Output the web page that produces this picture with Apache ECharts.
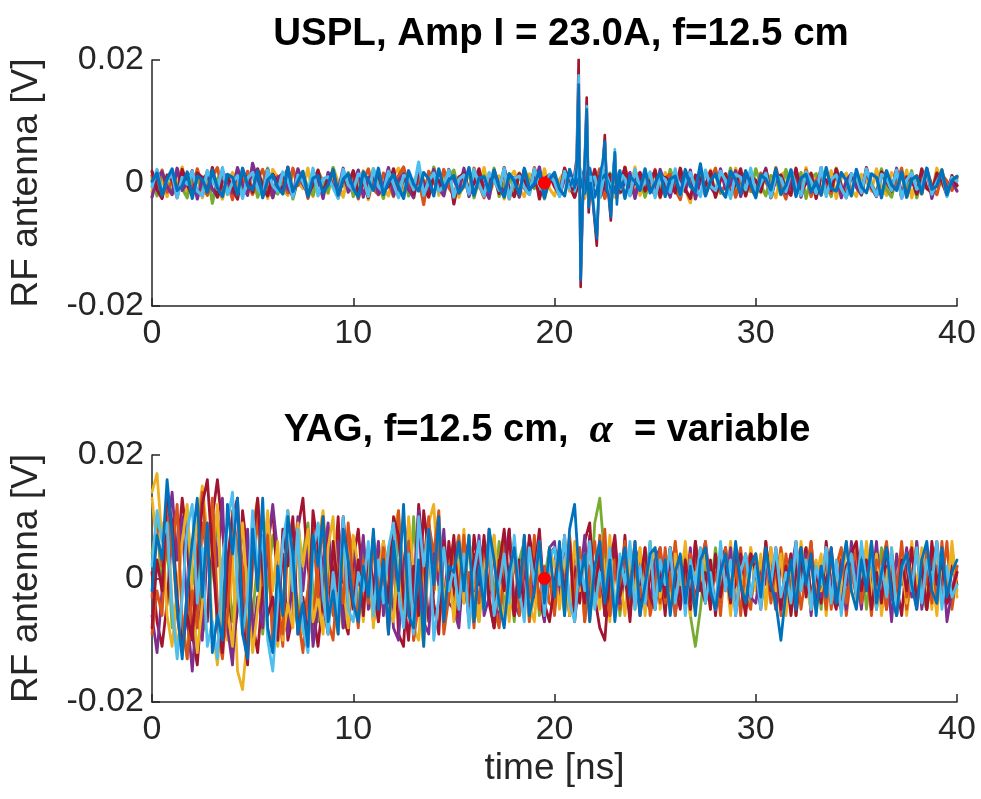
<!DOCTYPE html>
<html><head><meta charset="utf-8">
<script src="https://cdn.jsdelivr.net/npm/echarts@6/dist/echarts.min.js"></script>
<style>html,body{margin:0;padding:0;background:#fff}#c{width:981px;height:799px}</style>
</head><body><div id="c"></div><script>
// ---- data (RF antenna signal, values in mV; sample step 0.25 ns from t = 0) ----
const sampleStepNs = 0.25;
const timeTicksNs = [0, 10, 20, 30, 40];
const yTickLabels = {'-20': '-0.02', '0': '0', '20': '0.02'};
const markerTimeNs = 19.5;
const markerValue = 0;

// USPL shots (top panel)
const uspOrange = [1.2,-0.8,2.1,-1.5,0.3,-2.4,1.7,0.4,-1.1,2.3,-0.6,-2.0,1.0,2.5,-1.3,0.2,-2.7,1.4,-0.3,1.9,
-1.8,0.7,2.2,-0.9,-2.3,1.1,0.0,-1.6,2.4,-0.4,1.3,-2.5,0.6,1.8,-1.2,-0.2,2.0,-2.1,0.9,-0.7,
1.5,-2.6,0.4,2.3,-1.0,-1.9,1.6,0.2,-2.2,1.2,2.6,-0.5,-1.4,0.8,-3.5,1.9,0.1,-1.1,2.2,-0.8,
-2.0,1.0,0.5,-1.7,2.4,-0.3,-2.4,1.4,0.7,-1.2,2.0,-2.6,0.3,1.6,-0.9,-1.8,2.5,-0.1,-2.2,1.3,
0.6,-1.5,2.1,-0.6,-2.3,0.9,1.8,-1.0,-0.2,2.3,-2.5,0.4,1.1,-1.6,2.6,-0.7,-2.0,1.5,0.0,-1.3,
2.2,-2.4,0.8,1.4,-1.1,-2.7,1.9,0.3,-0.8,2.0,-1.9,0.5,2.4,-1.4,-0.4,1.2,-2.3,0.7,1.7,-1.0,
-2.1,1.6,0.2,-1.5,2.5,-0.5,-2.6,1.0,0.6,-1.2,2.1,-2.2,0.4,1.8,-0.9,-1.7,2.3,-0.3,-2.4,1.1,
0.9,-1.4,2.0,-0.7,-2.1,1.3,1.7,-1.1,-0.1,2.4,-2.3,0.6,1.2,-1.8,2.2,-0.4,-1.9,1.4,0.3,-1.2,0.8];
const uspYellow = [-1.4,2.0,0.6,-2.2,1.1,-0.5,2.6,-1.8,-0.2,1.5,-2.4,0.9,2.1,-1.0,-2.6,0.4,1.7,-1.3,2.3,-0.6,
-1.9,1.2,0.2,-2.5,2.2,0.8,-1.2,-2.0,1.6,0.3,-0.9,2.4,-2.2,1.0,-0.4,-1.7,2.5,0.1,-2.3,1.4,
0.7,-1.5,2.0,-2.7,0.5,1.9,-0.8,-2.1,1.3,2.4,-1.6,0.0,-2.4,1.8,0.6,-1.1,2.2,-2.0,0.9,-0.3,
1.6,-2.3,0.4,2.1,-1.4,-0.6,2.5,-1.9,0.2,1.2,-2.6,0.8,1.9,-1.0,-2.2,1.5,0.3,-1.6,2.3,-0.9,
-2.1,0.6,1.8,-1.3,-0.1,2.4,-2.5,1.1,0.5,-1.8,2.0,-0.7,-2.3,1.4,0.9,-1.2,2.6,-2.0,0.2,1.3,
-0.8,-2.2,1.7,0.4,-1.5,2.3,-1.1,-3.2,1.0,0.6,-0.4,2.1,-2.3,1.5,-0.2,-1.7,2.4,0.0,-2.1,1.2,
0.5,-1.6,2.2,-0.9,-2.4,1.3,1.9,-1.2,0.1,-2.0,2.5,-0.6,1.0,-1.9,-0.3,2.0,-2.5,0.8,1.6,-1.1,
-2.2,1.4,0.3,-1.3,2.3,-0.7,-2.0,1.7,0.6,-1.5,2.1,-2.4,0.9,1.2,-0.8,-1.8,2.4,-0.2,-1.4,1.0,-0.5];
const uspGreen = [0.8,-2.1,1.5,0.2,-1.7,2.3,-0.9,-2.4,1.2,0.5,-1.0,2.0,-3.3,0.7,1.8,-1.4,-0.3,2.2,-1.9,0.4,
1.6,-2.3,0.1,2.4,-1.1,-1.8,0.9,2.1,-2.6,0.6,1.3,-0.7,-2.0,1.9,0.3,-1.5,2.5,-1.2,-0.4,1.7,
-2.2,0.5,1.1,-1.6,2.3,-0.2,-2.5,1.4,0.8,-1.3,2.0,-2.1,0.3,1.6,-0.8,-1.9,2.6,-0.5,-1.2,0.9,
2.1,-1.7,-0.6,1.8,-2.4,0.7,1.2,-1.0,2.4,-2.2,0.0,1.5,-1.4,-2.0,2.2,0.4,-0.9,1.7,-2.6,1.0,
0.3,-1.5,2.3,-0.4,-2.1,1.3,0.9,-1.8,2.0,-0.6,-2.4,1.6,0.2,-1.1,2.5,-1.9,0.6,1.1,-2.3,0.5,
1.8,-0.8,-1.6,2.2,-0.1,-2.5,1.5,0.7,-1.2,2.1,-2.0,0.4,1.4,-1.7,-0.5,2.4,-2.2,0.8,1.0,-1.4,
2.3,-0.3,-2.1,1.2,0.6,-1.9,2.2,-1.0,-0.7,1.7,-2.5,0.9,1.5,-1.3,0.1,-2.2,2.4,-0.6,-1.5,1.1,
0.4,-2.0,1.9,-0.2,-1.6,2.3,-1.1,-2.3,1.3,0.8,-0.9,2.0,-2.4,0.5,1.7,-1.2,-0.4,2.2,-1.8,0.6,1.0];
const uspPurple = [-2.3,0.9,1.8,-0.6,-1.9,2.4,-1.2,0.1,2.0,-2.6,0.7,1.4,-1.0,-2.2,1.9,0.5,-1.6,2.5,-0.4,-2.0,
3.2,0.3,-1.4,2.2,-2.4,0.8,1.6,-0.9,-2.1,2.3,-0.2,-1.7,1.3,0.6,-2.5,1.7,-0.5,-1.2,2.4,-1.5,
-0.1,2.1,-2.3,0.9,1.2,-1.8,-0.6,2.5,-2.0,0.4,1.5,-1.1,-2.4,1.9,0.2,-1.4,2.2,-0.8,-2.1,1.6,
0.5,-1.3,2.4,-2.2,0.1,1.8,-0.7,-2.5,2.0,-0.3,-1.5,1.2,0.8,-2.3,2.1,-1.0,-0.4,2.6,-1.9,0.3,
1.4,-2.1,0.7,1.9,-1.6,-0.5,2.3,-2.4,0.6,1.1,-0.9,-2.0,2.4,-1.3,0.0,1.7,-2.5,0.9,1.3,-1.1,
-1.8,2.2,-0.2,-2.3,1.5,0.8,-1.4,2.1,-2.6,0.4,1.6,-0.6,-1.9,2.3,-1.0,-0.3,2.0,-2.2,0.7,1.2,
-1.5,0.2,2.4,-2.0,0.6,1.3,-1.7,-0.4,2.2,-2.3,1.0,0.5,-1.2,2.5,-1.8,-0.1,1.8,-2.4,0.4,1.5,
-0.7,-1.9,2.1,-0.8,-2.2,1.6,0.9,-1.3,2.4,-2.1,0.3,1.1,-1.6,-0.2,2.3,-2.5,0.8,1.4,-1.0,0.2,-1.3];
const uspDarkRed = [1.9,-1.1,-2.5,1.3,0.4,-1.8,2.2,-0.3,-2.0,1.6,0.9,-1.4,2.5,-2.3,0.2,1.1,-0.8,-2.6,1.8,0.6,
-1.5,2.3,-0.6,-2.1,1.4,0.0,-1.2,2.6,-2.2,0.7,1.5,-1.9,-0.3,2.1,-1.6,0.5,1.9,-2.4,0.8,-0.2,
2.0,-1.7,0.3,-2.4,1.7,1.0,-1.3,-0.5,2.3,-2.1,0.6,1.2,-1.8,2.4,-0.7,-2.3,1.1,0.4,-1.0,2.2,
-3.4,0.9,1.6,-1.2,-0.1,2.3,-2.0,0.5,1.0,-1.7,2.5,-0.9,-2.2,1.5,0.3,-1.4,2.1,-2.6,0.7,1.3,
-0.6,-1.9,2.4,-0.2,-2.3,1.6,0.8,-1.1,2.2,-2.4,0.1,1.4,-1.5,-0.7,2.5,-2.0,0.6,1.7,-1.3,0.2,
2.0,-2.2,0.9,0.3,-1.6,2.4,-1.0,-2.5,1.3,0.7,-0.4,1.9,-2.3,0.5,1.5,-1.8,-0.2,2.3,-2.1,1.0,
0.4,-1.4,2.1,-2.4,0.8,1.2,-0.9,-2.0,2.4,-1.5,0.0,1.6,-2.5,1.1,0.5,-1.2,2.2,-0.6,-2.2,1.4,
0.7,-1.7,2.5,-0.4,-2.1,1.8,0.2,-1.3,2.0,-2.4,1.0,0.6,-1.8,2.3,-0.9,-1.5,1.6,0.3,-2.0,1.2,-0.4];
const uspCyan = [-0.6,2.2,-1.7,0.5,1.4,-2.4,0.9,-0.2,1.9,-1.3,-2.1,2.0,0.4,-1.0,2.5,-1.9,0.1,1.2,-2.5,0.8,
1.7,-0.9,-2.0,2.1,-0.4,-1.4,1.8,0.6,-2.3,1.3,0.2,-1.6,2.4,-2.1,0.7,1.0,-0.8,-2.5,2.2,-0.3,
-1.2,1.5,0.8,-2.2,2.3,-0.6,-1.5,1.9,-0.1,-2.4,1.2,0.9,-1.1,3.4,-2.0,0.3,1.6,-1.4,-0.5,2.1,
-2.3,0.6,1.3,-1.8,2.2,-0.2,-2.1,1.7,0.4,-1.2,2.4,-2.5,0.8,1.1,-0.7,-1.9,2.3,-0.5,-1.6,1.4,
0.2,-2.2,1.9,-0.9,-1.3,2.5,-1.6,0.5,1.0,-2.4,2.0,-0.3,-1.7,1.5,0.7,-2.1,2.2,-1.0,0.1,1.8,
-2.4,1.1,0.6,-1.5,2.3,-2.0,0.3,1.7,-0.8,-2.2,2.1,-0.5,-1.2,1.9,0.4,-2.5,1.4,0.9,-1.1,2.4,
-1.9,0.0,1.6,-2.3,1.2,0.7,-1.4,2.2,-0.6,-2.0,1.8,0.3,-1.7,2.5,-2.2,0.6,1.3,-0.9,-2.4,1.5,
1.0,-1.6,2.3,-0.3,-2.1,1.4,0.8,-1.2,2.1,-2.5,0.5,1.6,-1.0,-0.4,2.4,-1.8,0.2,1.7,-2.2,0.9,0.3];
const uspBlue = [0.3,1.6,-2.0,0.7,2.3,-1.2,-0.5,1.8,-2.5,1.1,0.6,-1.5,2.1,-0.8,-2.2,1.4,0.9,-1.9,2.4,-0.4,
-1.1,2.0,-2.4,0.5,1.3,-0.7,-1.8,2.5,-1.4,0.2,1.9,-2.2,0.8,1.2,-1.6,-0.3,2.2,-2.0,0.6,1.5,
-0.9,-2.3,1.8,0.4,-1.2,2.4,-1.9,0.1,1.4,-0.6,-2.5,2.0,-0.2,-1.3,1.7,0.7,-2.1,2.3,-1.0,0.5,
1.2,-1.6,-0.4,2.5,-2.0,0.8,1.0,-1.4,2.1,-0.7,-2.3,1.5,0.3,-1.8,2.4,-1.1,-0.1,1.9,-2.4,0.6,
1.7,-1.0,-2.1,2.2,-0.5,0.9,-1.7,2.4,-2.3,0.4,1.3,-0.8,-1.5,2.0,-2.5,1.1,0.2,-1.2,2.3,-1.6,
0.0,1.8,-2.2,0.7,1.1,-1.9,2.2,-0.6,-1.4,3.1,-2.1,0.3,1.5,-1.0,-2.3,1.9,0.5,-1.7,2.0,-0.2,
-2.4,1.3,0.6,-1.1,2.3,-1.8,-0.4,2.1,-2.2,0.8,1.4,-1.5,0.2,-2.0,2.5,-0.9,-1.3,1.7,0.4,-2.1,
2.2,-0.6,-1.6,1.5,0.9,-2.4,2.0,-0.3,-1.2,1.8,-2.3,0.6,1.1,-1.7,2.4,-1.0,-0.5,2.1,-1.9,0.4,1.1];

// USPL discharge burst, sampled every 0.1 ns
const burstTimeNs = [20.8,20.9,21.0,21.1,21.2,21.3,21.4,21.5,21.6,21.7,21.8,21.9,22.0,22.1,22.2,22.3,22.4,22.5,22.6,22.7,22.8,22.9,23.0,23.1,23.2,23.3,23.4];
const burstDarkRed = [0.5,-1.2,1.5,4.0,20.3,-16.9,-4.0,3.5,13.9,-4.8,0.5,-3.0,-6.5,-10.2,-1.5,1.5,3.0,7.8,-0.5,-2.5,-6.1,0.8,4.8,-2.5,1.0,-1.5,0.6];
const burstCyan = [0.8,-0.5,1.0,3.0,17.5,-15.0,-3.0,2.5,12.5,-3.5,1.0,-2.0,-5.5,-8.5,-2.0,1.0,2.5,6.5,0.2,-1.8,-5.0,1.2,5.5,-2.0,0.5,-1.0,1.2];
const burstBlue = [-0.3,0.6,-0.8,2.5,16.0,-15.8,-2.5,3.0,12.0,-4.0,0.0,-2.5,-6.0,-9.0,-1.0,2.0,3.5,6.8,-1.0,-2.0,-5.5,0.5,5.0,-3.5,1.2,-0.8,0.2];

// YAG shots (bottom panel)
const yagGreen = [4,9,-2,6,-8,-3,7,11,-1,5,-9,-6,2,10,-4,3,-7,1,9,-2,
-6,3,-9,-1,7,2,-5,8,-3,-8,4,9,-2,-7,1,6,-4,2,-8,5,
3,-5,6,-2,-6,4,-1,5,-7,8,2,-6,10,-3,-9,5,-2,7,-5,1,
-6,4,-2,7,-4,-7,2,5,-3,6,-5,1,-7,3,6,-2,4,-6,0,5,
-4,2,-6,5,1,-3,6,-5,9,13,3,-4,5,-6,1,4,-5,2,-3,6,
-2,4,-5,1,3,-4,2,-6,-11,-5,3,-2,5,-3,1,-5,4,-1,3,-4,
2,-4,5,-1,-5,3,-2,4,-6,1,5,-3,2,-5,4,0,-4,3,-2,5,
-3,4,-5,2,-1,5,-4,3,-6,1,4,-2,6,-3,-5,2,-1,5,-4,3,1];
const yagYellow = [14,17,6,12,-4,-11,-6,-13,3,9,15,7,-8,-14,-5,-10,4,-15,-18,-9,
8,13,3,10,-6,-11,-2,-7,9,4,-9,-3,-10,6,11,1,-5,-9,3,7,
-4,2,-7,5,-2,6,-5,-1,8,11,-3,6,-8,-10,2,9,12,-2,-6,3,
6,-3,8,-5,-1,-7,4,2,7,-4,-6,1,6,-2,5,-7,-3,4,-5,2,
-3,5,-1,7,-6,2,-4,6,1,-5,3,-7,4,-2,6,-4,-1,5,-6,2,
4,-5,1,-3,6,-2,3,-6,2,5,-4,1,-5,3,-1,6,-4,2,-3,5,
-2,4,-5,2,-3,5,1,-4,6,-2,3,-5,0,4,-6,3,-1,5,-3,2,
4,-3,6,-1,-5,2,-4,5,-2,3,-6,1,5,-3,2,-5,4,0,-4,6,-2];
const yagOrange = [-3,8,2,13,7,-6,-12,-2,-9,5,14,3,9,-8,-13,-3,11,5,-4,-11,
2,10,-3,7,-9,-4,-11,6,1,9,-7,-2,-10,5,10,-1,-6,3,-8,8,
4,-6,1,-3,6,-7,2,-9,3,10,-4,8,-10,1,-6,9,4,11,-5,-2,
3,7,-4,1,-8,5,-2,8,-5,-1,6,-6,3,-3,7,-7,2,5,-4,0,
-6,3,-2,7,-4,5,-7,1,6,-3,8,-6,2,-5,4,-1,6,-4,3,-5,
2,-4,5,-2,6,-3,1,-5,3,-1,5,-4,2,-6,4,-2,1,5,-3,-5,
4,-2,6,-3,-1,5,-5,2,-4,3,-2,6,-4,1,-5,4,-2,3,-6,1,
-3,5,-1,4,-5,2,6,-2,-4,3,-5,1,4,-3,5,-4,2,-1,6,-5,1];
const yagDarkRed = [1,-7,-11,-4,8,3,13,6,-9,-14,-3,-7,10,16,8,-2,-12,-5,11,4,
-7,-12,-2,6,11,-1,4,-10,-6,8,13,2,-5,-11,-3,7,-1,10,-6,-9,
3,8,-2,5,-7,-3,6,-1,9,-9,-11,4,-4,12,3,-7,-2,8,-5,6,
-2,-7,4,-5,7,1,6,-4,-8,2,8,-1,-6,3,-5,7,2,-3,-7,4,
5,-2,7,-6,2,-4,6,9,-3,-8,-10,1,5,-4,7,-5,2,-6,4,1,
-4,2,-6,5,1,-3,4,-5,6,-1,-4,3,-6,2,5,-3,-1,4,-5,3,
1,-5,3,-2,5,-4,0,4,-6,2,5,-3,1,-4,6,-2,-5,3,-1,4,
-3,5,-2,6,-4,1,-5,4,-1,-6,3,5,-2,4,-5,1,6,-3,-4,2,-1];
const yagPurple = [-6,-12,-2,7,14,3,10,-6,-15,-4,-10,5,12,2,13,-8,-14,-1,-6,8,
-10,-3,-8,5,12,4,-6,-9,1,10,-2,7,-11,-5,3,9,-3,6,-8,-1,
5,-1,7,-5,-2,6,-6,3,-8,-10,2,9,-3,11,-7,-9,4,-1,8,-4,
-5,-8,3,6,-2,7,-6,-3,5,-7,2,8,-4,-6,1,6,-3,4,-7,5,
6,-3,2,-6,5,-1,7,-5,-2,4,-6,3,6,-4,1,-6,5,2,-3,-5,
3,5,-2,4,-6,1,-3,5,-4,2,6,-1,-5,3,-2,5,-6,1,4,-3,
-4,2,-1,5,-5,3,-3,1,6,-2,4,-6,2,-3,5,-1,-4,3,-5,6,
1,-5,3,-2,6,-4,2,-7,4,-1,5,-3,6,-5,1,3,-4,5,-7,-2,2];
const yagYellow2 = [13,5,9,-6,-11,-2,6,12,-3,-12,-4,8,3,12,-8,-5,-11,2,9,-3,
-12,-5,3,11,-2,6,-10,-4,-8,9,2,8,-7,-3,-9,5,10,-4,-1,-8,
7,2,-5,4,-8,1,6,-3,-7,3,-6,10,1,-5,-11,4,-2,9,-4,2,
-7,3,-4,6,1,-6,4,-2,7,-5,2,-7,5,-1,6,-4,-7,3,-2,5,
2,-5,3,-6,6,-2,4,-7,1,5,-3,7,-5,0,-6,4,-2,5,-4,3,
5,-3,2,-5,4,-1,6,-4,1,-2,5,-5,3,-4,2,-6,4,1,-3,5,
-1,3,-4,5,-2,4,-6,2,-3,6,-1,-5,3,-2,5,-4,1,-3,6,-2,
-4,2,5,-3,4,-6,1,3,-5,2,-4,6,-2,5,-3,1,-6,4,-1,5,-3];
const yagOrange2 = [-9,-2,-6,10,4,12,-7,-13,-2,-8,9,3,13,-4,-11,-6,8,11,2,-12,
4,12,-1,7,-11,-5,-9,11,3,-6,-12,-2,8,-3,10,-7,-10,2,-4,9,
-1,-8,3,-4,7,-2,5,-8,2,11,-5,6,-10,-4,3,10,-2,6,-9,-3,
5,-2,7,-6,1,-4,6,3,-5,-8,2,-1,6,-6,4,-3,7,-5,2,-4,
-5,4,-1,6,-3,5,-7,2,-4,7,-2,-6,3,-1,6,-5,2,-3,5,-6,
-2,5,-4,1,-6,3,-1,4,-5,2,6,-3,1,-4,5,-2,3,-6,2,4,
3,-1,5,-4,2,-6,4,-2,3,-5,1,6,-3,-1,4,-5,2,5,-4,1,
5,-4,2,-6,3,1,-5,4,-2,6,-3,0,-5,3,-1,5,-4,6,-2,-3,2];
const yagDarkRed2 = [-8,3,-2,14,9,-3,-11,-6,-10,2,12,16,4,-7,-12,3,10,13,-6,-14,
6,13,1,-6,-3,-10,8,2,10,-9,-3,-10,11,5,-4,-9,6,-2,10,1,
-5,3,-6,5,-1,-7,3,-4,10,7,-3,-10,2,-6,11,4,-4,-9,6,-1,
7,-5,2,-7,4,-1,7,-3,-8,3,-2,8,-6,2,-5,6,1,8,-4,-7,
-1,5,-3,6,-7,1,-4,7,-2,4,-6,2,7,-3,1,-7,4,-1,5,-3,
-5,2,-3,5,-1,-5,3,-4,6,-2,1,-5,4,-3,2,-4,5,-1,-6,4,
1,-4,6,-2,3,-5,2,-6,1,5,-3,4,-5,2,-1,5,-3,-5,2,4,
6,-2,3,-5,1,-4,5,-1,-6,3,-2,5,-4,2,-5,6,-1,3,-4,-2,1];
const yagCyan = [2,11,6,9,-5,-13,-3,8,12,-4,5,-11,-7,-13,3,9,14,-2,-9,-3,
11,2,7,-10,-15,-4,6,11,-2,8,-8,-12,4,9,-3,-9,1,-6,10,-5,
-7,1,-2,6,-6,3,-4,5,9,-2,-8,4,-9,10,2,8,-10,-3,5,-2,
2,-5,4,-8,1,6,-3,7,-6,-1,4,-4,7,-2,-7,5,-1,6,-6,3,
5,-1,7,-4,-7,3,-2,6,-5,1,-3,5,-6,4,-1,6,-5,2,-4,6,
-5,3,-1,5,-4,2,-6,3,-1,5,-4,1,-5,6,-2,3,-6,1,4,-3,
2,-5,4,-1,5,-3,1,-4,6,-2,3,-5,2,-1,5,-4,3,-6,1,4,
-3,6,-1,4,-5,2,-3,5,-6,1,4,-2,5,-4,3,-1,6,-5,2,-3,-1];
const yagBlue = [-2,7,3,16,7,-5,-13,-2,6,13,-3,9,-12,-6,-10,12,4,13,-9,-13,
8,-2,13,-8,-12,2,-6,10,4,-9,-4,-11,7,2,10,-7,-2,-9,8,3,
-4,-7,2,-3,8,-5,3,-9,6,-2,12,-6,-8,3,-11,8,-1,10,-7,2,
1,6,-2,7,-7,2,-5,8,3,-4,-8,1,5,-3,7,-6,-2,6,-4,5,
-3,6,-6,8,12,-1,4,-7,2,6,-4,3,-7,1,5,-3,6,-6,-1,4,
5,-2,3,-6,1,4,-4,2,-6,3,5,-2,-5,1,4,-3,6,-1,-4,2,
4,-3,5,-1,-4,-10,-2,3,-5,5,-1,4,-6,2,-3,5,-4,1,6,-2,
-5,3,-2,6,-4,1,5,-3,-6,2,4,-1,-5,3,6,-2,-4,5,-3,1,3];

// ---- styling ----
const C = {blue:'#0072BD', orange:'#D95319', yellow:'#EDB120', purple:'#7E2F8E', green:'#77AC30', cyan:'#4DBEEE', darkred:'#A2142F'};
const axisColor = '#262626';
const font = '"Liberation Sans", Arial, Helvetica, sans-serif';

const topShots = [[uspYellow,C.yellow],[uspGreen,C.green],[uspOrange,C.orange],[uspPurple,C.purple],[uspDarkRed,C.darkred],[uspCyan,C.cyan],[uspBlue,C.blue]];
const topBursts = [[burstDarkRed,C.darkred],[burstCyan,C.cyan],[burstBlue,C.blue]];
const bottomShots = [[yagGreen,C.green],[yagYellow,C.yellow],[yagOrange,C.orange],[yagDarkRed,C.darkred],[yagPurple,C.purple],[yagYellow2,C.yellow],[yagOrange2,C.orange],[yagDarkRed2,C.darkred],[yagCyan,C.cyan],[yagBlue,C.blue]];

function sampled(values){ return values.map((v,i)=>[i*sampleStepNs, v]); }
function lineSeries(data, color, g, width){
  return {type:'line', xAxisIndex:g, yAxisIndex:g, data, showSymbol:false, symbol:'none', silent:true,
    lineStyle:{width, color, join:'round', cap:'round'}, itemStyle:{color}, z:2, animation:false};
}
function xAxisFor(g, withName){
  return {type:'value', gridIndex:g, min:timeTicksNs[0], max:timeTicksNs[timeTicksNs.length-1], interval:10,
    axisLine:{onZero:false, lineStyle:{color:axisColor, width:1.5}},
    axisTick:{inside:true, length:8, lineStyle:{color:axisColor, width:1.5}},
    axisLabel:{fontSize:34, color:axisColor, margin:11, fontFamily:font},
    splitLine:{show:false},
    name: withName ? 'time [ns]' : '', nameLocation:'middle', nameGap:48,
    nameTextStyle:{fontSize:37, color:axisColor, fontFamily:font}};
}
function yAxisFor(g){
  return {type:'value', gridIndex:g, min:-20, max:20, interval:20,
    axisLine:{lineStyle:{color:axisColor, width:1.5}},
    axisTick:{inside:true, length:8, lineStyle:{color:axisColor, width:1.5}},
    axisLabel:{fontSize:34, color:axisColor, margin:8, fontFamily:font, formatter:v=>yTickLabels[String(v)] ?? ''},
    splitLine:{show:false},
    name:'RF antenna [V]', nameLocation:'middle', nameGap:107,
    nameTextStyle:{fontSize:37, color:axisColor, fontFamily:font}};
}

const series = [];
topShots.forEach(([vals,col])=>series.push(lineSeries(sampled(vals), col, 0, 3.2)));
topBursts.forEach(([vals,col])=>series.push(lineSeries(burstTimeNs.map((t,i)=>[t, vals[i]]), col, 0, 2.6)));
bottomShots.forEach(([vals,col])=>series.push(lineSeries(sampled(vals), col, 1, 2.8)));
[0,1].forEach(g=>series.push({type:'scatter', xAxisIndex:g, yAxisIndex:g, data:[[markerTimeNs, markerValue]],
  symbolSize:13, itemStyle:{color:'#FF0000', opacity:1}, z:10, silent:true, animation:false}));

const chart = echarts.init(document.getElementById('c'), null, {renderer:'canvas'});
chart.setOption({
  animation:false,
  backgroundColor:'#ffffff',
  title:[
    {text:'USPL, Amp I = 23.0A, f=12.5 cm', left:556, top:10, textAlign:'center',
     textStyle:{fontSize:38.5, fontWeight:'bold', color:'#000', fontFamily:font}},
    {text:'{b|YAG, f=12.5 cm,  }{a|\u03b1}{b|  = variable}', left:542, top:405, textAlign:'center',
     textStyle:{rich:{b:{fontSize:38, fontWeight:'bold', color:'#000', fontFamily:font},
                      a:{fontSize:42, fontStyle:'italic', color:'#000', fontFamily:'"Liberation Serif", "DejaVu Serif", serif'}}}}
  ],
  grid:[
    {left:152, top:60, width:805, height:246, containLabel:false},
    {left:152, top:455, width:805, height:247, containLabel:false}
  ],
  xAxis:[xAxisFor(0,false), xAxisFor(1,true)],
  yAxis:[yAxisFor(0), yAxisFor(1)],
  series
});
</script></body></html>
